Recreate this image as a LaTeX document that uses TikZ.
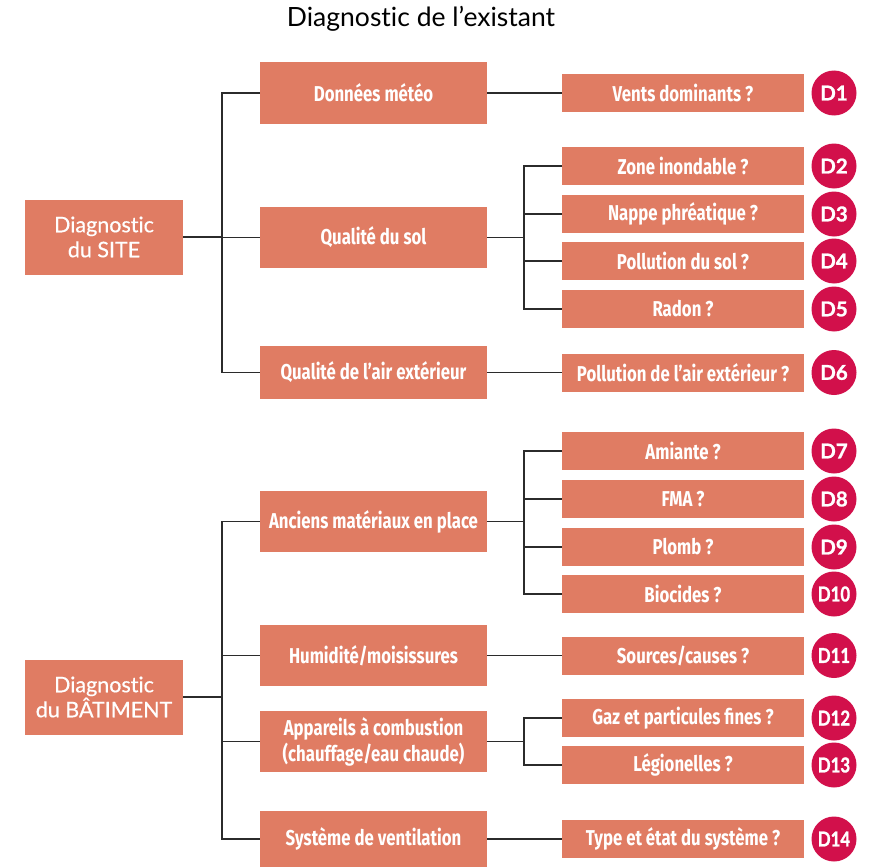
\documentclass[tikz,border=0pt]{standalone}
\usepackage{fontspec}
\setmainfont{Lato}[Ligatures=CommonOff]
\newfontfamily\boxfont[FakeStretch=0.78]{Fira Sans}
\newfontfamily\leftfont[FakeBold=0.5,Ligatures=CommonOff]{Lato}
\newfontfamily\badgefont[FakeBold=1.2]{Lato}
\newfontfamily\badgenarrowfont[FakeBold=1.2,FakeStretch=0.82]{Lato}
\usetikzlibrary{positioning}
\definecolor{boxred}{HTML}{E07C63}
\definecolor{badgered}{HTML}{D2104B}
\definecolor{linegray}{HTML}{2B2B2B}

\begin{document}
\begin{tikzpicture}[x=1pt,y=-1pt,
	mainbox/.style={rectangle,fill=boxred,text=white,minimum width=158pt,minimum height=75pt,inner sep=0pt,align=center,font=\leftfont\fontsize{21.5}{25}\selectfont},
	midbox/.style={rectangle,fill=boxred,text=white,minimum width=227pt,minimum height=61pt,inner sep=0pt,align=center,font=\boxfont\bfseries\fontsize{21.5}{26}\selectfont},
	qbox/.style={rectangle,fill=boxred,text=white,minimum width=242pt,minimum height=38pt,inner sep=0pt,font=\boxfont\bfseries\fontsize{21.5}{24}\selectfont},
	badge/.style={circle,fill=badgered,text=white,minimum size=45pt,inner sep=0pt,font=\badgefont\bfseries\fontsize{20.5}{22}\selectfont},
	link/.style={draw=linegray,line width=1.3pt}]
	\useasboundingbox (0,0) rectangle (873,867);
	% title
	\node[font=\fontsize{26.5}{30}\selectfont] (title) at (421,19) {Diagnostic de l’existant};
	% left column
	\node[mainbox] (site) at (104,237) {Diagnostic\\du SITE};
	\node[mainbox] (bat) at (104,697) {Diagnostic\\du BÂTIMENT};
	% middle column
	\node[midbox] (meteo) at (373.5,93) {Données météo};
	\node[midbox] (sol) at (373.5,237.5) {Qualité du sol};
	\node[midbox,minimum height=53pt] (air) at (373.5,372.5) {Qualité de l’air extérieur};
	\node[midbox] (anciens) at (373.5,521.5) {Anciens matériaux en place};
	\node[midbox] (humid) at (373.5,655.5) {Humidité/moisissures};
	\node[midbox] (appar) at (373.5,741.5) {Appareils à combustion\\(chauffage/eau chaude)};
	\node[midbox,minimum height=56pt] (ventil) at (373.5,839) {Système de ventilation};
	% right column
	\node[qbox] (vents) at (683,93) {Vents dominants ?};
	\node[qbox] (zone) at (683,166) {Zone inondable ?};
	\node[qbox] (nappe) at (683,214) {Nappe phréatique ?};
	\node[qbox] (polsol) at (683,261) {Pollution du sol ?};
	\node[qbox] (radon) at (683,309) {Radon ?};
	\node[qbox] (polair) at (683,372.5) {Pollution de l’air extérieur ?};
	\node[qbox] (amiante) at (683,451) {Amiante ?};
	\node[qbox] (fma) at (683,499) {FMA ?};
	\node[qbox] (plomb) at (683,547) {Plomb ?};
	\node[qbox] (biocides) at (683,594) {Biocides ?};
	\node[qbox] (sources) at (683,655.5) {Sources/causes ?};
	\node[qbox] (gaz) at (683,718) {Gaz et particules fines ?};
	\node[qbox] (legio) at (683,765) {Légionelles ?};
	\node[qbox] (typesys) at (683,839) {Type et état du système ?};
	% badges
	\foreach \q/\n in {vents/1,zone/2,nappe/3,polsol/4,radon/5,polair/6,amiante/7,fma/8,plomb/9,biocides/10,sources/11,gaz/12,legio/13,typesys/14}
		\node[badge] (d\n) at (834,0 |- \q) {\ifnum\n>9 \badgenarrowfont\bfseries\fontsize{20.5}{22}\selectfont\fi D\n};
	% bus points
	\coordinate (sitebus) at (222,237);
	\coordinate (batbus) at (222,697);
	\coordinate (solbus) at (524,237.5);
	\coordinate (ancbus) at (524,521.5);
	\coordinate (apbus) at (524,741.5);
	% connectors
	\draw[link] (site.east) -- (sitebus);
	\foreach \m in {meteo,sol,air}
		\draw[link] (sitebus) |- (\m.west);
	\draw[link] (bat.east) -- (batbus);
	\foreach \m in {anciens,humid,appar,ventil}
		\draw[link] (batbus) |- (\m.west);
	\draw[link] (sol.east) -- (solbus);
	\foreach \q in {zone,nappe,polsol,radon}
		\draw[link] (solbus) |- (\q.west);
	\draw[link] (anciens.east) -- (ancbus);
	\foreach \q in {amiante,fma,plomb,biocides}
		\draw[link] (ancbus) |- (\q.west);
	\draw[link] (appar.east) -- (apbus);
	\foreach \q in {gaz,legio}
		\draw[link] (apbus) |- (\q.west);
	\draw[link] (meteo.east) -- (vents.west);
	\draw[link] (air.east) -- (polair.west);
	\draw[link] (humid.east) -- (sources.west);
	\draw[link] (ventil.east) -- (typesys.west);
\end{tikzpicture}
\end{document}
